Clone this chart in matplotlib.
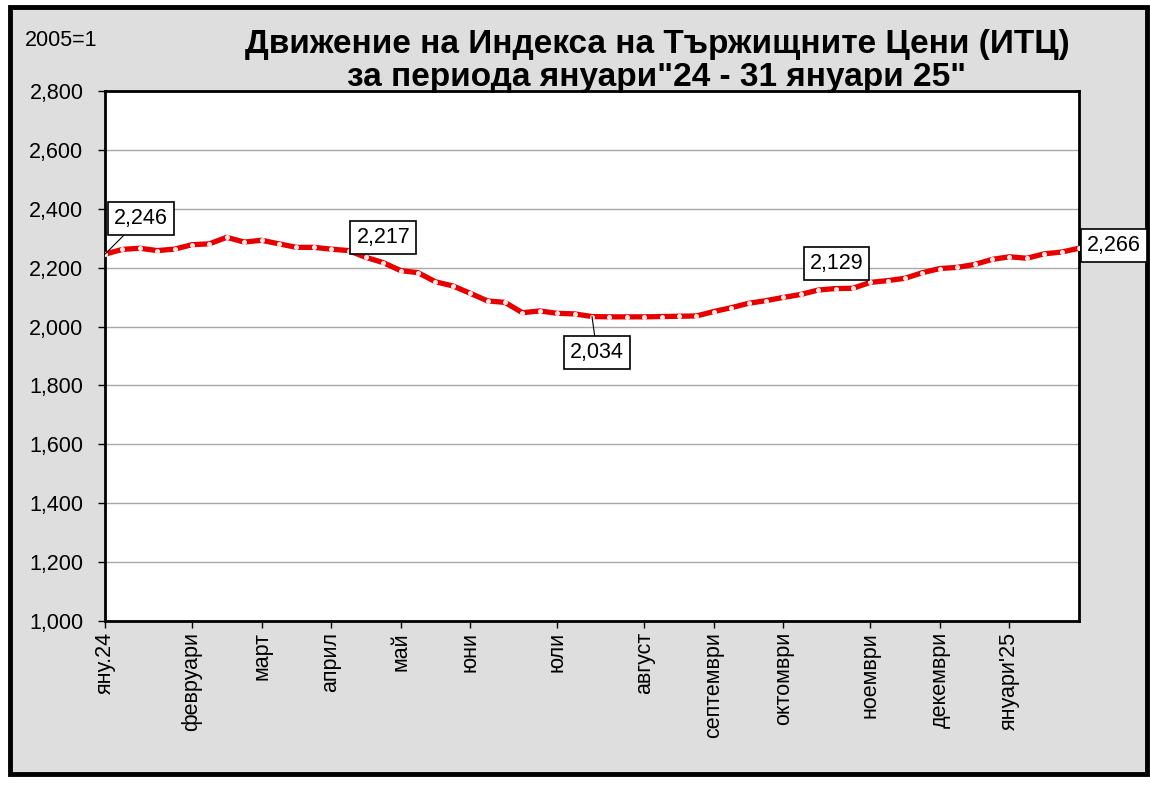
import matplotlib
matplotlib.use("Agg")
import matplotlib.pyplot as plt
from matplotlib.patches import Rectangle
from matplotlib.ticker import FuncFormatter, MultipleLocator

plt.rcParams['font.family'] = ['Liberation Sans', 'DejaVu Sans']

# weekly index values, 5 Jan 2024 .. 31 Jan 2025
values = [2246, 2262, 2266, 2258, 2263, 2278, 2281, 2303, 2287, 2293,
          2281, 2269, 2269, 2263, 2258, 2235, 2217, 2190, 2183, 2152,
          2138, 2113, 2087, 2082, 2047, 2053, 2045, 2043, 2034, 2033,
          2033, 2033, 2034, 2035, 2036, 2051, 2064, 2079, 2088, 2099,
          2109, 2124, 2129, 2130, 2150, 2156, 2164, 2183, 2197, 2201,
          2211, 2228, 2237, 2232, 2247, 2253, 2266]

month_pos = [0, 5, 9, 13, 17, 21, 26, 31, 35, 39, 44, 48, 52]
month_labels = ['яну.24', 'февруари', 'март', 'април', 'май', 'юни', 'юли',
                'август', 'септември', 'октомври', 'ноември', 'декември',
                "януари'25"]

# labelled points: index, label offset in pixels, leader line or not
label_idx = [0, 16, 28, 42, 56]
label_off = [(36, 36), (0, 25), (5, -36), (1, 25), (35, 3)]
label_line = [True, False, True, False, False]

x = list(range(len(values)))

fig = plt.figure(figsize=(11.5, 7.85), dpi=100, facecolor='white')
fig.patches.append(Rectangle((10 / 1150, 1 - 774 / 785), 1137 / 1150, 767 / 785,
                             transform=fig.transFigure, facecolor='#dedede',
                             edgecolor='black', linewidth=3.5, zorder=-5))

ax = fig.add_axes([105 / 1150, 1 - 621 / 785, 974 / 1150, 530 / 785])
ax.set_zorder(2)
ax.set_facecolor('white')
ax.plot(x, values, color='#e80000', linewidth=3.8, marker='o', markersize=2.6,
        markerfacecolor='#ffe6e6', markeredgecolor='#ffe6e6', zorder=3,
        solid_joinstyle='round')

ax.set_xlim(0, len(values) - 1)
ax.set_ylim(1000, 2800)
ax.yaxis.set_major_locator(MultipleLocator(200))
ax.yaxis.set_major_formatter(FuncFormatter(lambda v, p: f'{int(v):,}'))
ax.grid(axis='y', color='#a8a8a8', linewidth=1)
ax.set_axisbelow(True)

ax.set_xticks(month_pos)
ax.set_xticklabels(month_labels, rotation=90, fontsize=15.5)
ax.tick_params(axis='y', labelsize=15.5, length=5, width=1, pad=10.5)
ax.tick_params(axis='x', length=5, width=1, pad=3)
for s in ax.spines.values():
    s.set_linewidth(2)

for i, off, line in zip(label_idx, label_off, label_line):
    arrow = dict(arrowstyle='-', color='black', lw=0.8, shrinkA=0, shrinkB=0) if line else None
    ax.annotate(f'{values[i]:,}', xy=(i, values[i]), xytext=off,
                textcoords='offset pixels', ha='center', va='center',
                fontsize=15.5, zorder=5, annotation_clip=False,
                bbox=dict(boxstyle='square,pad=0.28', fc='white', ec='black', lw=1.2),
                arrowprops=arrow)

fig.text(25 / 1150, 1 - 40 / 785, '2005=1', fontsize=15.5, va='center', ha='left')
fig.text(657 / 1150, 1 - 61 / 785,
         'Движение на Индекса на Тържищните Цени (ИТЦ)\n'
         'за периода януари"24 - 31 януари 25"',
         fontsize=24, fontweight='bold', ha='center', va='center',
         linespacing=1.05)

fig.savefig('out.png', dpi=100, facecolor=fig.get_facecolor())
